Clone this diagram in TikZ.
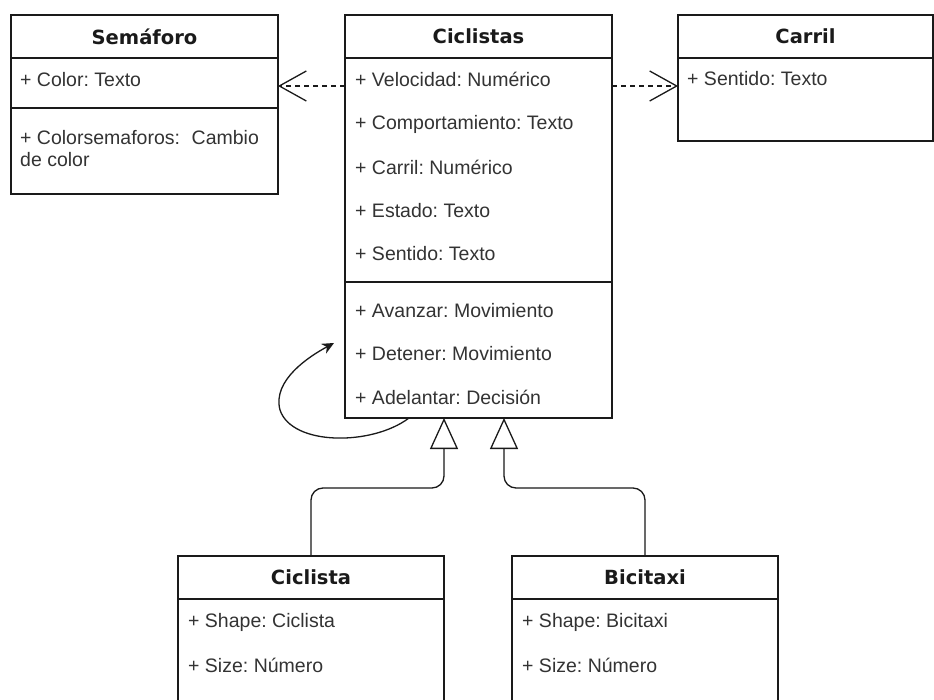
\documentclass[tikz,border=0pt]{standalone}
\usepackage{fontspec}
\setmainfont{Liberation Sans}
\newfontfamily\titlefont{DejaVu Sans}
\usetikzlibrary{arrows.meta}
\definecolor{linec}{HTML}{1A1A1A}
\definecolor{textc}{HTML}{333333}
\definecolor{titlec}{HTML}{1A1A1A}
\frenchspacing
\begin{document}
\begin{tikzpicture}[x=1pt,y=-1pt,
  box/.style={draw=linec, line width=1.3pt, anchor=north west, inner sep=0pt, outer sep=0pt, rectangle, fill=white},
  titletext/.style={font=\titlefont\bfseries\fontsize{19.5}{23}\selectfont, text=titlec},
  attr/.style={anchor=west, inner sep=0pt, align=left, font=\frenchspacing\fontsize{19.5}{23}\selectfont, text=textc},
  conn/.style={draw=linec, line width=1.3pt},
  dep/.style={conn, dash pattern=on 5pt off 4pt, -{Straight Barb[length=27pt, width=30pt, line width=1.3pt]}},
  inh/.style={conn, rounded corners=12pt, -{Triangle[open, length=31pt, width=28pt, fill=white, line width=1.3pt]}},
  self/.style={conn, -{Stealth[length=12pt, width=11pt]}}
]
\useasboundingbox (0,0) rectangle (934,700);
\fill[white] (0,0) rectangle (934,700);

% Semaforo
\node[box, titletext, minimum width=267pt, minimum height=43pt] (semh) at (11,15) {Semáforo};
\node[box, minimum width=267pt, minimum height=50pt] (sema) at (11,58) {};
\node[box, minimum width=267pt, minimum height=86pt] (semo) at (11,108) {};
\node[attr] (sem1) at (20,80) {+ Color: Texto};
\node[attr] (sem2) at (20,148.5) {+ Colorsemaforos:\hspace{0.6em}Cambio\\[-0.5pt]de color};

% Ciclistas
\node[box, titletext, minimum width=267pt, minimum height=43pt] (cih) at (345,15) {Ciclistas};
\node[box, minimum width=267pt, minimum height=224pt] (cia) at (345,58) {};
\node[box, minimum width=267pt, minimum height=136pt] (cio) at (345,282) {};
\node[attr] (c1) at (355,79) {+ Velocidad: Numérico};
\node[attr] (c2) at (355,124) {+ Comportamiento: Texto};
\node[attr] (c3) at (355,167) {+ Carril: Numérico};
\node[attr] (c4) at (355,211) {+ Estado: Texto};
\node[attr] (c5) at (355,254) {+ Sentido: Texto};
\node[attr] (c6) at (355,311) {+ Avanzar: Movimiento};
\node[attr] (c7) at (355,354) {+ Detener: Movimiento};
\node[attr] (c8) at (355,397) {+ Adelantar: Decisión};

% Carril
\node[box, titletext, minimum width=255pt, minimum height=43pt] (cah) at (678,15) {Carril};
\node[box, minimum width=255pt, minimum height=83pt] (caa) at (678,58) {};
\node[attr] (ca1) at (687,79) {+ Sentido: Texto};

% Ciclista
\node[box, titletext, minimum width=266pt, minimum height=43pt] (clh) at (178,556) {Ciclista};
\node[box, minimum width=266pt, minimum height=130pt] (cla) at (178,599) {};
\node[attr] (cl1) at (188,622) {+ Shape: Ciclista};
\node[attr] (cl2) at (188,665) {+ Size: Número};

% Bicitaxi
\node[box, titletext, minimum width=266pt, minimum height=43pt] (bih) at (512,556) {Bicitaxi};
\node[box, minimum width=266pt, minimum height=130pt] (bia) at (512,599) {};
\node[attr] (bi1) at (522,622) {+ Shape: Bicitaxi};
\node[attr] (bi2) at (522,665) {+ Size: Número};

% connector end points
\coordinate (d1s) at (345,86);
\coordinate (d1e) at (278,86);
\coordinate (d2s) at (612,86);
\coordinate (d2e) at (678,86);
\coordinate (i1) at (444,418);
\coordinate (i2) at (504,418);
\coordinate (l1) at (409,418);
\coordinate (l2) at (334,343);

% dependencies
\draw[dep] (d1s) -- (d1e);
\draw[dep] (d2s) -- (d2e);

% inheritance
\draw[inh] (clh.north) -- (311,488) -- (444,488) -- (i1);
\draw[inh] (bih.north) -- (645,488) -- (504,488) -- (i2);

% self association
\draw[self] (l1) .. controls (372,446) and (292,446) .. (280,410) .. controls (272,380) and (310,356) .. (l2);
\end{tikzpicture}
\end{document}
